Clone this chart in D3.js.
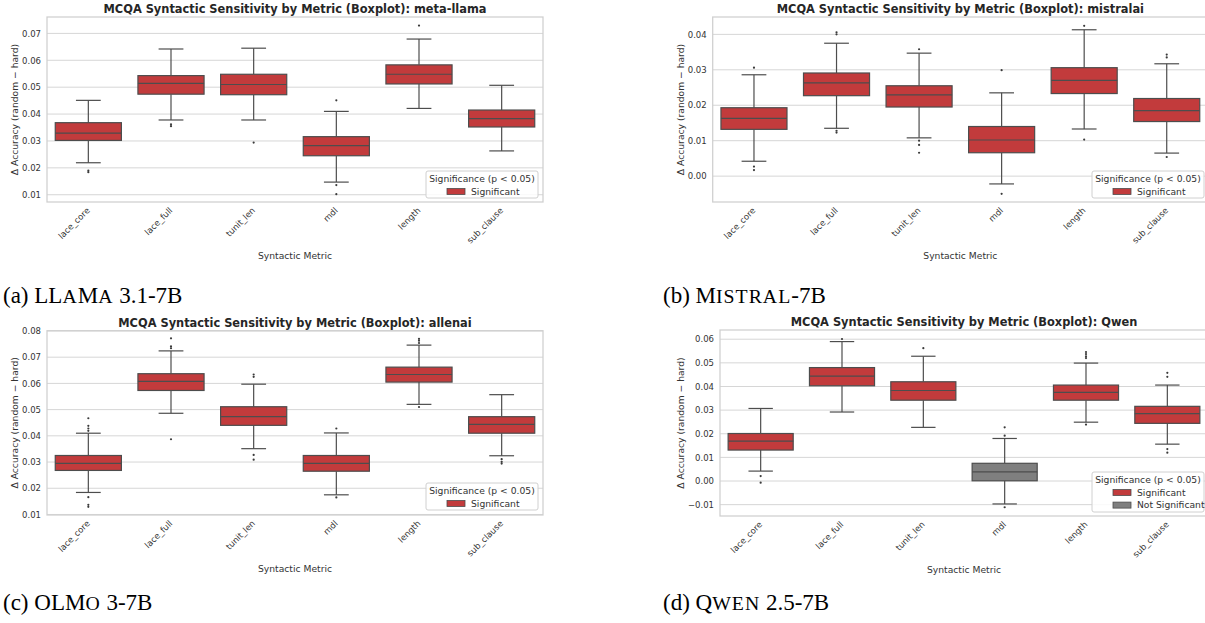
<!DOCTYPE html>
<html>
<head>
<meta charset="utf-8">
<script src="https://cdn.jsdelivr.net/npm/d3@7"></script>
<style>
  html, body { margin: 0; padding: 0; background: #fff; }
  svg { display: block; }
  .dv, .dv text { font-family: "DejaVu Sans", sans-serif; }
  .cap, .cap tspan { font-family: "Liberation Serif", "Times New Roman", serif; }
</style>
</head>
<body>
<svg id="chart" width="1205" height="623"></svg>
<script>
// ---------------- DATA ----------------
const categories = ["lace_core", "lace_full", "tunit_len", "mdl", "length", "sub_clause"];

// five-number stats per metric: [whiskerLow, q1, median, q3, whiskerHigh]
const llamaStats = [
  [0.0219, 0.0302, 0.0329, 0.0368, 0.0451],
  [0.0378, 0.0474, 0.0514, 0.0543, 0.0642],
  [0.0378, 0.0472, 0.0510, 0.0548, 0.0645],
  [0.0147, 0.0245, 0.0283, 0.0316, 0.0410],
  [0.0421, 0.0512, 0.0548, 0.0583, 0.0679],
  [0.0263, 0.0352, 0.0383, 0.0415, 0.0507]
];
const llamaOutliers = [
  [0.0190, 0.0184], [0.0362, 0.0355], [0.0294],
  [0.0451, 0.0136, 0.0102], [0.0729], []
];
const llamaSignificant = [true, true, true, true, true, true];
const llamaTicks = [0.01, 0.02, 0.03, 0.04, 0.05, 0.06, 0.07];

const mistralStats = [
  [0.0042, 0.0132, 0.0163, 0.0193, 0.0286],
  [0.0135, 0.0227, 0.0263, 0.0291, 0.0375],
  [0.0108, 0.0195, 0.0229, 0.0255, 0.0347],
  [-0.0022, 0.0066, 0.0102, 0.0140, 0.0235],
  [0.0133, 0.0233, 0.0270, 0.0306, 0.0413],
  [0.0065, 0.0154, 0.0185, 0.0219, 0.0317]
];
const mistralOutliers = [
  [0.0306, 0.0027, 0.0017], [0.0406, 0.0400, 0.0128, 0.0123],
  [0.0358, 0.0100, 0.0088, 0.0066], [0.0299, -0.0050],
  [0.0424, 0.0103], [0.0343, 0.0335, 0.0054]
];
const mistralSignificant = [true, true, true, true, true, true];
const mistralTicks = [0.00, 0.01, 0.02, 0.03, 0.04];

const olmoStats = [
  [0.0184, 0.0268, 0.0295, 0.0325, 0.0410],
  [0.0486, 0.0573, 0.0608, 0.0637, 0.0724],
  [0.0351, 0.0440, 0.0473, 0.0511, 0.0597],
  [0.0175, 0.0265, 0.0295, 0.0325, 0.0411],
  [0.0520, 0.0605, 0.0634, 0.0662, 0.0746],
  [0.0324, 0.0410, 0.0444, 0.0473, 0.0557]
];
const olmoOutliers = [
  [0.0467, 0.0438, 0.0428, 0.0419, 0.0166, 0.0137, 0.0129],
  [0.0772, 0.0741, 0.0734, 0.0387],
  [0.0634, 0.0625, 0.0327, 0.0309],
  [0.0428, 0.0165],
  [0.0770, 0.0763, 0.0754, 0.0510],
  [0.0311, 0.0301, 0.0294]
];
const olmoSignificant = [true, true, true, true, true, true];
const olmoTicks = [0.01, 0.02, 0.03, 0.04, 0.05, 0.06, 0.07, 0.08];

const qwenStats = [
  [0.0042, 0.0131, 0.0169, 0.0201, 0.0307],
  [0.0292, 0.0403, 0.0444, 0.0480, 0.0590],
  [0.0227, 0.0342, 0.0383, 0.0420, 0.0528],
  [-0.0097, 0.0001, 0.0039, 0.0075, 0.0180],
  [0.0249, 0.0342, 0.0375, 0.0406, 0.0499],
  [0.0156, 0.0244, 0.0285, 0.0316, 0.0406]
];
const qwenOutliers = [
  [0.0021, -0.0007], [0.0601], [0.0562],
  [0.0227, 0.0192, -0.0111],
  [0.0546, 0.0537, 0.0528, 0.0520, 0.0239],
  [0.0458, 0.0441, 0.0135, 0.0120]
];
const qwenSignificant = [true, true, true, false, true, true];
const qwenTicks = [-0.01, 0.00, 0.01, 0.02, 0.03, 0.04, 0.05, 0.06];

const modelNames = ["meta-llama", "mistralai", "allenai", "Qwen"];
// caption pieces: [text, smallCaps?]
const captionA = [["(a) LL", false], ["a", true], ["M", false], ["a", true], [" 3.1-7B", false]];
const captionB = [["(b) M", false], ["istral", true], ["-7B", false]];
const captionC = [["(c) OLM", false], ["o", true], [" 3-7B", false]];
const captionD = [["(d) Q", false], ["wen", true], [" 2.5-7B", false]];
const legendTitle = "Significance (p < 0.05)";
const legendLabels = ["Significant", "Not Significant"];

// ---------------- LAYOUT / STYLE ----------------
const COLORS = { sig: "#c23b3c", notSig: "#7f7f7f", line: "#4d4d4d", grid: "#d6d6d6", spine: "#cfcfcf", text: "#333333" };

const panels = [
  { name: modelNames[0], stats: llamaStats, out: llamaOutliers, sig: llamaSignificant, ticks: llamaTicks,
    left: 47, top: 17, right: 543, bottom: 202, domain: [0.0073, 0.0761], ylabX: 14,
    legend: { x: 426, y: 171, w: 112, entries: 1 }, caption: captionA, capX: 3, capY: 303 },
  { name: modelNames[1], stats: mistralStats, out: mistralOutliers, sig: mistralSignificant, ticks: mistralTicks,
    left: 712.7, top: 17, right: 1208, bottom: 202, domain: [-0.0073, 0.0449], ylabX: 680,
    legend: { x: 1092, y: 171, w: 112, entries: 1 }, caption: captionB, capX: 663, capY: 303 },
  { name: modelNames[2], stats: olmoStats, out: olmoOutliers, sig: olmoSignificant, ticks: olmoTicks,
    left: 47, top: 330.7, right: 543, bottom: 515, domain: [0.0098, 0.0801], ylabX: 14,
    legend: { x: 426, y: 483, w: 112, entries: 1 }, caption: captionC, capX: 3, capY: 610 },
  { name: modelNames[3], stats: qwenStats, out: qwenOutliers, sig: qwenSignificant, ticks: qwenTicks,
    left: 720, top: 330, right: 1208, bottom: 516, domain: [-0.0148, 0.0639], ylabX: 680,
    legend: { x: 1092, y: 472, w: 112, entries: 2 }, caption: captionD, capX: 663, capY: 610 }
];

const svg = d3.select("#chart");
const fmt = v => { const s = d3.format(".2f")(Math.abs(v) < 1e-9 ? 0 : v); return s.replace("-", "\u2212"); };
const CAP_SIZE = 23, SC_SCALE = 0.86, SC_SPACING = 1.0;

panels.forEach(p => {
  const g = svg.append("g").attr("class", "dv");
  const x = d3.scaleBand().domain(categories).range([p.left, p.right]).padding(0);
  const y = d3.scaleLinear().domain(p.domain).range([p.bottom, p.top]);
  const bw = x.bandwidth() * 0.8;
  const cw = x.bandwidth() * 0.3;

  // grid
  g.append("g").selectAll("line").data(p.ticks).join("line")
    .attr("x1", p.left).attr("x2", p.right)
    .attr("y1", d => y(d)).attr("y2", d => y(d))
    .attr("stroke", COLORS.grid).attr("stroke-width", 1);

  // y axis (labels only)
  const yAxis = d3.axisLeft(y).tickValues(p.ticks).tickSize(0).tickPadding(6).tickFormat(fmt);
  const ya = g.append("g").attr("transform", `translate(${p.left},0)`).call(yAxis)
    .attr("font-family", "DejaVu Sans").attr("font-size", 8.5);
  ya.select(".domain").remove();
  ya.selectAll("text").attr("fill", COLORS.text);

  // x axis labels
  const xAxis = d3.axisBottom(x).tickSize(0).tickPadding(0);
  const xa = g.append("g").attr("transform", `translate(0,${p.bottom})`).call(xAxis)
    .attr("font-family", "DejaVu Sans").attr("font-size", 8.5);
  xa.select(".domain").remove();
  xa.selectAll("text")
    .attr("fill", COLORS.text)
    .attr("text-anchor", "end").attr("dy", null).attr("y", null)
    .attr("transform", "translate(2,9) rotate(-45)");

  // spines
  g.append("rect").attr("x", p.left).attr("y", p.top)
    .attr("width", p.right - p.left).attr("height", p.bottom - p.top)
    .attr("fill", "none").attr("stroke", COLORS.spine).attr("stroke-width", 1.25);

  // boxes
  const boxes = g.append("g").selectAll("g").data(categories).join("g");
  boxes.each(function(c, i) {
    const s = p.stats[i];
    const cx = x(c) + x.bandwidth() / 2;
    const gg = d3.select(this);
    const fill = p.sig[i] ? COLORS.sig : COLORS.notSig;
    gg.append("line").attr("x1", cx).attr("x2", cx).attr("y1", y(s[0])).attr("y2", y(s[1]))
      .attr("stroke", COLORS.line).attr("stroke-width", 1.2);
    gg.append("line").attr("x1", cx).attr("x2", cx).attr("y1", y(s[3])).attr("y2", y(s[4]))
      .attr("stroke", COLORS.line).attr("stroke-width", 1.2);
    [s[0], s[4]].forEach(v => gg.append("line").attr("x1", cx - cw / 2).attr("x2", cx + cw / 2)
      .attr("y1", y(v)).attr("y2", y(v)).attr("stroke", COLORS.line).attr("stroke-width", 1.2));
    gg.append("rect").attr("x", cx - bw / 2).attr("width", bw)
      .attr("y", y(s[3])).attr("height", y(s[1]) - y(s[3]))
      .attr("fill", fill).attr("stroke", COLORS.line).attr("stroke-width", 1.2);
    gg.append("line").attr("x1", cx - bw / 2).attr("x2", cx + bw / 2)
      .attr("y1", y(s[2])).attr("y2", y(s[2])).attr("stroke", COLORS.line).attr("stroke-width", 1.2);
    gg.selectAll("circle").data(p.out[i]).join("circle")
      .attr("cx", cx).attr("cy", d => y(d)).attr("r", 1.1).attr("fill", "#3a3a3a");
  });

  // title
  g.append("text").attr("x", (p.left + p.right) / 2).attr("y", p.top - 4)
    .attr("text-anchor", "middle").attr("font-size", 11.4).attr("font-weight", "bold")
    .attr("fill", "#262626").text(`MCQA Syntactic Sensitivity by Metric (Boxplot): ${p.name}`);

  // axis titles
  g.append("text").attr("x", (p.left + p.right) / 2).attr("y", p.bottom + 57)
    .attr("text-anchor", "middle").attr("font-size", 9.2).attr("fill", COLORS.text).text("Syntactic Metric");
  g.append("text").attr("transform", `translate(${p.ylabX},${(p.top + p.bottom) / 2}) rotate(-90)`)
    .attr("text-anchor", "middle").attr("dominant-baseline", "central")
    .attr("font-size", 9.2).attr("fill", COLORS.text)
    .text("\u0394 Accuracy (random \u2212 hard)");

  // legend
  const L = p.legend;
  const lh = L.entries === 1 ? 27 : 40;
  const lg = g.append("g");
  lg.append("rect").attr("x", L.x).attr("y", L.y).attr("width", L.w).attr("height", lh)
    .attr("rx", 2).attr("fill", "#fff").attr("fill-opacity", 0.85).attr("stroke", "#d0d0d0").attr("stroke-width", 1);
  lg.append("text").attr("x", L.x + L.w / 2).attr("y", L.y + 10.8)
    .attr("text-anchor", "middle").attr("font-size", 9.2).attr("fill", COLORS.text).text(legendTitle);
  const entryColors = [COLORS.sig, COLORS.notSig];
  for (let k = 0; k < L.entries; k++) {
    const ey = L.y + 20.5 + k * 12.6;
    lg.append("rect").attr("x", L.x + 21).attr("y", ey - 3).attr("width", 18).attr("height", 6)
      .attr("fill", entryColors[k]).attr("stroke", COLORS.line).attr("stroke-width", 0.8);
    lg.append("text").attr("x", L.x + 45).attr("y", ey + 3.3)
      .attr("font-size", 9.2).attr("fill", COLORS.text).text(legendLabels[k]);
  }

  // caption
  const ct = svg.append("text").attr("class", "cap").attr("x", p.capX).attr("y", p.capY)
    .attr("font-size", CAP_SIZE).attr("fill", "#000");
  p.caption.forEach(([t, sc]) => {
    ct.append("tspan")
      .attr("font-size", sc ? CAP_SIZE * SC_SCALE : CAP_SIZE)
      .attr("letter-spacing", sc ? SC_SPACING : 0)
      .text(sc ? t.toUpperCase() : t);
  });
});
</script>
</body>
</html>
